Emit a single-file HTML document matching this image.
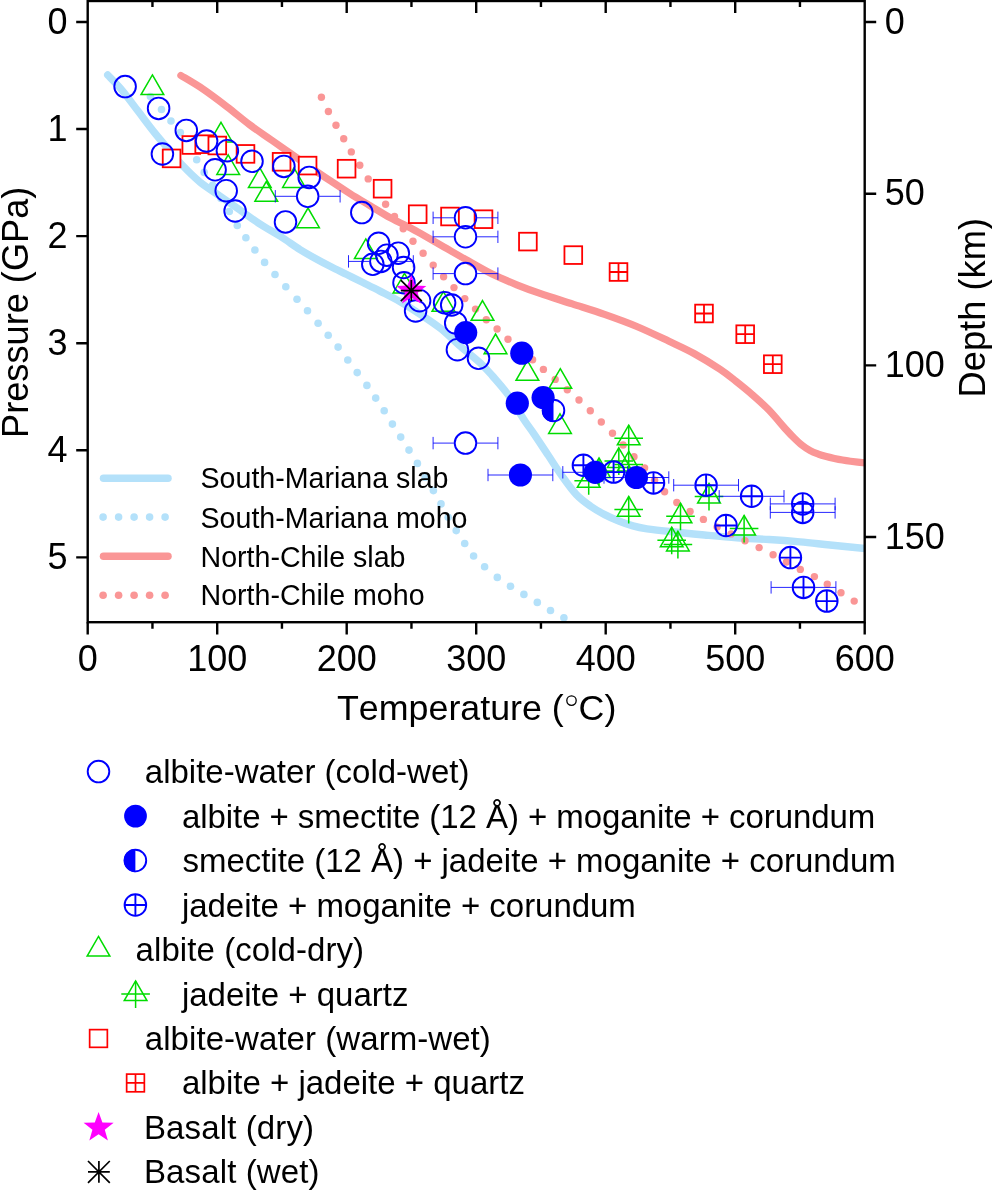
<!DOCTYPE html><html><head><meta charset="utf-8"><style>html,body{margin:0;padding:0;background:#fff;overflow:hidden}svg{display:block}text{font-family:"Liberation Sans",sans-serif;fill:#000;font-kerning:none}</style></head><body>
<div style="will-change:transform;width:992px;height:1191px"><svg width="992" height="1191" viewBox="0 0 992 1191">
<rect width="992" height="1191" fill="#fff"/>
<defs><clipPath id="pc"><rect x="87.7" y="1.0" width="777.0" height="621.2"/></clipPath></defs>
<g clip-path="url(#pc)" fill="none" stroke-linecap="round" stroke-linejoin="round">
<path d="M107.7,75 C110.13,77.6 117.18,84.5 122.3,90.6 C127.42,96.7 133.03,104.6 138.4,111.6 C143.77,118.6 149.67,126.55 154.5,132.6 C159.33,138.65 162.83,142.53 167.4,147.9 C171.97,153.27 176.47,159.1 181.9,164.8 C187.33,170.5 193.62,176.87 200,182.1 C206.38,187.33 213.48,191.5 220.2,196.2 C226.92,200.9 233.58,205.6 240.3,210.3 C247.02,215 253.78,220.03 260.5,224.4 C267.22,228.77 274.02,232.3 280.6,236.5 C287.18,240.7 294.35,246.03 300,249.6 C305.65,253.17 309.4,255.08 314.5,257.9 C319.6,260.72 325.22,263.73 330.6,266.5 C335.98,269.27 341.42,271.83 346.8,274.5 C352.18,277.17 357.37,279.73 362.9,282.5 C368.43,285.27 373.78,287.9 380,291.1 C386.22,294.3 393.48,297.83 400.2,301.7 C406.92,305.57 413.58,309.85 420.3,314.3 C427.02,318.75 433.78,323.03 440.5,328.4 C447.22,333.77 454.02,340.78 460.6,346.5 C467.18,352.22 474.72,357.82 480,362.7 C485.28,367.58 487.57,370.38 492.3,375.8 C497.03,381.22 503.08,387.83 508.4,395.2 C513.72,402.57 519.92,413.52 524.2,420 C528.48,426.48 530.1,428.22 534.1,434.1 C538.1,439.98 543.5,448.25 548.2,455.3 C552.9,462.35 557.6,469.85 562.3,476.4 C567,482.95 571.68,489.63 576.4,494.6 C581.12,499.57 585.88,502.87 590.6,506.2 C595.32,509.53 600,512.13 604.7,514.6 C609.4,517.07 614.1,519.12 618.8,521 C623.5,522.88 628.2,524.6 632.9,525.9 C637.6,527.2 640.43,527.82 647,528.8 C653.57,529.78 662.72,530.77 672.3,531.8 C681.88,532.83 693.75,534 704.5,535 C715.25,536 726.05,537.05 736.8,537.8 C747.55,538.55 758.47,538.82 769,539.5 C779.53,540.18 789.83,540.98 800,541.9 C810.17,542.82 819,543.88 830,545 C841,546.12 860,548 866,548.6" stroke="#B4E1FA" stroke-width="7.4"/>
<g fill="#B4E1FA"><circle cx="150.4" cy="96.6" r="3.8"/><circle cx="161.5" cy="109.5" r="3.8"/><circle cx="171" cy="121" r="3.8"/><circle cx="180.3" cy="132.6" r="3.8"/><circle cx="188.5" cy="146.2" r="3.8"/><circle cx="196.7" cy="159.8" r="3.8"/><circle cx="204.2" cy="172.4" r="3.8"/><circle cx="212.6" cy="185.4" r="3.8"/><circle cx="221" cy="198.5" r="3.8"/><circle cx="229.3" cy="211.5" r="3.8"/><circle cx="237.3" cy="225.5" r="3.8"/><circle cx="245.9" cy="237.7" r="3.8"/><circle cx="254.9" cy="250" r="3.8"/><circle cx="264.6" cy="262.4" r="3.8"/><circle cx="275" cy="274.5" r="3.8"/><circle cx="285.8" cy="286.8" r="3.8"/><circle cx="297" cy="299.2" r="3.8"/><circle cx="307.5" cy="310.8" r="3.8"/><circle cx="318.1" cy="323.2" r="3.8"/><circle cx="328.2" cy="335.3" r="3.8"/><circle cx="338.1" cy="347.1" r="3.8"/><circle cx="347.8" cy="360" r="3.8"/><circle cx="357.2" cy="372.6" r="3.8"/><circle cx="366.9" cy="385.4" r="3.8"/><circle cx="375.7" cy="398.1" r="3.8"/><circle cx="384.2" cy="410.8" r="3.8"/><circle cx="392.4" cy="424.1" r="3.8"/><circle cx="400.7" cy="437.1" r="3.8"/><circle cx="409" cy="450.1" r="3.8"/><circle cx="417.4" cy="463.4" r="3.8"/><circle cx="425.3" cy="477.3" r="3.8"/><circle cx="433.4" cy="490.6" r="3.8"/><circle cx="441" cy="503.9" r="3.8"/><circle cx="448.2" cy="517.2" r="3.8"/><circle cx="456.2" cy="530.6" r="3.8"/><circle cx="464.7" cy="543.5" r="3.8"/><circle cx="473.6" cy="556" r="3.8"/><circle cx="484.6" cy="566.8" r="3.8"/><circle cx="497.3" cy="577.4" r="3.8"/><circle cx="510.5" cy="586.3" r="3.8"/><circle cx="523.9" cy="594.4" r="3.8"/><circle cx="537.3" cy="602.4" r="3.8"/><circle cx="550.5" cy="610.5" r="3.8"/><circle cx="563.9" cy="617.7" r="3.8"/></g>
<path d="M180.9,75.5 C184.57,77.75 195.2,83.78 202.9,89 C210.6,94.22 219.25,100.8 227.1,106.8 C234.95,112.8 242.47,119.37 250,125 C257.53,130.63 263.22,134.23 272.3,140.6 C281.38,146.97 294.88,156.53 304.5,163.2 C314.12,169.87 322.38,175.52 330,180.6 C337.62,185.68 343.48,189.5 350.2,193.7 C356.92,197.9 363.58,201.77 370.3,205.8 C377.02,209.83 383.78,214.2 390.5,217.9 C397.22,221.6 405.68,225.47 410.6,228 C415.52,230.53 414.4,229.92 420,233.1 C425.6,236.28 436.13,242.45 444.2,247.1 C452.27,251.75 460.33,256.47 468.4,261 C476.47,265.53 484.53,270.33 492.6,274.3 C500.67,278.27 508.9,281.62 516.8,284.8 C524.7,287.98 530.75,290.22 540,293.4 C549.25,296.58 561.55,300.4 572.3,303.9 C583.05,307.4 593.75,310.63 604.5,314.4 C615.25,318.17 626.05,322.02 636.8,326.5 C647.55,330.98 659.47,336.8 669,341.3 C678.53,345.8 685.5,348.83 694,353.5 C702.5,358.17 712.98,364.65 720,369.3 C727.02,373.95 730.72,377.17 736.1,381.4 C741.48,385.63 746.92,390 752.3,394.7 C757.68,399.4 762.78,403.8 768.4,409.6 C774.02,415.4 781.72,424.77 786,429.5 C790.28,434.23 791.42,435.37 794.1,438 C796.78,440.63 799.42,443.18 802.1,445.3 C804.78,447.42 807.5,449.23 810.2,450.7 C812.9,452.17 815.62,453.13 818.3,454.1 C820.98,455.07 823.62,455.78 826.3,456.5 C828.98,457.22 831.7,457.82 834.4,458.4 C837.1,458.98 839.82,459.53 842.5,460 C845.18,460.47 846.58,460.7 850.5,461.2 C854.42,461.7 863.42,462.7 866,463" stroke="#FA9696" stroke-width="7.2"/>
<g fill="#FA9696"><circle cx="321.4" cy="97.2" r="3.7"/><circle cx="328.4" cy="111.5" r="3.7"/><circle cx="336" cy="125.2" r="3.7"/><circle cx="343.7" cy="138.7" r="3.7"/><circle cx="351.3" cy="151.9" r="3.7"/><circle cx="359.8" cy="165.3" r="3.7"/><circle cx="368.2" cy="178.9" r="3.7"/><circle cx="377" cy="191.5" r="3.7"/><circle cx="385.6" cy="204.3" r="3.7"/><circle cx="394.5" cy="216.5" r="3.7"/><circle cx="403.2" cy="228.8" r="3.7"/><circle cx="413" cy="241.2" r="3.7"/><circle cx="423.1" cy="253.3" r="3.7"/><circle cx="433.2" cy="265.1" r="3.7"/><circle cx="443.6" cy="276.7" r="3.7"/><circle cx="454" cy="287.6" r="3.7"/><circle cx="464.8" cy="298.6" r="3.7"/><circle cx="475.5" cy="309.1" r="3.7"/><circle cx="486.3" cy="319.8" r="3.7"/><circle cx="497.1" cy="329" r="3.7"/><circle cx="508" cy="339.2" r="3.7"/><circle cx="520.3" cy="349.5" r="3.7"/><circle cx="532.6" cy="359.7" r="3.7"/><circle cx="543.4" cy="369.4" r="3.7"/><circle cx="555.2" cy="379.4" r="3.7"/><circle cx="567.3" cy="389.8" r="3.7"/><circle cx="579" cy="400" r="3.7"/><circle cx="590.3" cy="410.8" r="3.7"/><circle cx="601.3" cy="422" r="3.7"/><circle cx="612.5" cy="433.2" r="3.7"/><circle cx="623.1" cy="445" r="3.7"/><circle cx="634" cy="456.8" r="3.7"/><circle cx="644.6" cy="467.9" r="3.7"/><circle cx="654.6" cy="480.3" r="3.7"/><circle cx="664.6" cy="491.8" r="3.7"/><circle cx="676.8" cy="502.5" r="3.7"/><circle cx="690.1" cy="511.4" r="3.7"/><circle cx="703.4" cy="519.4" r="3.7"/><circle cx="717.1" cy="527.1" r="3.7"/><circle cx="731.1" cy="533.9" r="3.7"/><circle cx="745" cy="540.7" r="3.7"/><circle cx="759.1" cy="547.6" r="3.7"/><circle cx="773.1" cy="554.7" r="3.7"/><circle cx="786.5" cy="562" r="3.7"/><circle cx="800.3" cy="569.4" r="3.7"/><circle cx="814.4" cy="576.6" r="3.7"/><circle cx="827.3" cy="584.2" r="3.7"/><circle cx="841" cy="592.7" r="3.7"/><circle cx="854.2" cy="601.1" r="3.7"/><circle cx="867.6" cy="611" r="3.7"/></g>
</g>
<g stroke-linecap="round">
<path d="M103.5,478.2H168" stroke="#B4E1FA" stroke-width="7.5"/>
<path d="M103.5,556.3H168" stroke="#FA9696" stroke-width="7.5"/>
</g>
<circle cx="103.1" cy="517.1" r="3.8" fill="#B4E1FA"/>
<circle cx="103.1" cy="595.2" r="3.8" fill="#FA9696"/>
<circle cx="118.6" cy="517.1" r="3.8" fill="#B4E1FA"/>
<circle cx="118.6" cy="595.2" r="3.8" fill="#FA9696"/>
<circle cx="134.1" cy="517.1" r="3.8" fill="#B4E1FA"/>
<circle cx="134.1" cy="595.2" r="3.8" fill="#FA9696"/>
<circle cx="149.6" cy="517.1" r="3.8" fill="#B4E1FA"/>
<circle cx="149.6" cy="595.2" r="3.8" fill="#FA9696"/>
<circle cx="165.1" cy="517.1" r="3.8" fill="#B4E1FA"/>
<circle cx="165.1" cy="595.2" r="3.8" fill="#FA9696"/>
<g font-size="28.6">
<text x="200.5" y="488.3">South-Mariana slab</text>
<text x="200.5" y="527.5">South-Mariana moho</text>
<text x="200.5" y="566.5">North-Chile slab</text>
<text x="200.5" y="605.4">North-Chile moho</text>
</g>
<g fill="none" stroke="#00DC00" stroke-width="1.5" stroke-linejoin="miter">
<path d="M152.4,74.9L163.75,94.55L141.05,94.55Z"/>
<path d="M221,122.3L232.35,141.95L209.65,141.95Z"/>
<path d="M228.2,154.8L239.55,174.45L216.85,174.45Z"/>
<path d="M259.8,167.9L271.15,187.55L248.45,187.55Z"/>
<path d="M266.3,181.5L277.65,201.15L254.95,201.15Z"/>
<path d="M294,167.8L305.35,187.45L282.65,187.45Z"/>
<path d="M308,208L319.35,227.65L296.65,227.65Z"/>
<path d="M365.8,238.9L377.15,258.55L354.45,258.55Z"/>
<path d="M404.5,273.3L415.85,292.95L393.15,292.95Z"/>
<path d="M443.4,291.6L454.75,311.25L432.05,311.25Z"/>
<path d="M482.5,300.6L493.85,320.25L471.15,320.25Z"/>
<path d="M495.5,334L506.85,353.65L484.15,353.65Z"/>
<path d="M527.4,360.6L538.75,380.25L516.05,380.25Z"/>
<path d="M560.3,368.7L571.65,388.35L548.95,388.35Z"/>
<path d="M560,413.8L571.35,433.45L548.65,433.45Z"/>
<path d="M628.7,425.2L640.05,444.85L617.35,444.85Z"/><path d="M614.4,438.3h28.6M628.7,425.2v27.1"/>
<path d="M618.8,447.8L630.15,467.45L607.45,467.45Z"/><path d="M604.5,460.9h28.6M618.8,447.8v27.1"/>
<path d="M628.7,451.4L640.05,471.05L617.35,471.05Z"/><path d="M614.4,464.5h28.6M628.7,451.4v27.1"/>
<path d="M599,457.9L610.35,477.55L587.65,477.55Z"/><path d="M584.7,471h28.6M599,457.9v27.1"/>
<path d="M588.7,467.6L600.05,487.25L577.35,487.25Z"/><path d="M574.4,480.7h28.6M588.7,467.6v27.1"/>
<path d="M628.7,496.5L640.05,516.15L617.35,516.15Z"/><path d="M614.4,509.6h28.6M628.7,496.5v27.1"/>
<path d="M680.5,503.2L691.85,522.85L669.15,522.85Z"/><path d="M666.2,516.3h28.6M680.5,503.2v27.1"/>
<path d="M671.7,527.2L683.05,546.85L660.35,546.85Z"/><path d="M657.4,540.3h28.6M671.7,527.2v27.1"/>
<path d="M677.9,531.3L689.25,550.95L666.55,550.95Z"/><path d="M663.6,544.4h28.6M677.9,531.3v27.1"/>
<path d="M709,483.4L720.35,503.05L697.65,503.05Z"/><path d="M694.7,496.5h28.6M709,483.4v27.1"/>
<path d="M744.1,515.4L755.45,535.05L732.75,535.05Z"/><path d="M729.8,528.5h28.6M744.1,515.4v27.1"/>
</g>
<g fill="#fff" stroke="#FF0000" stroke-width="1.8">
<rect x="162.75" y="149.55" width="17.7" height="17.7"/>
<rect x="182.45" y="136.15" width="17.7" height="17.7"/>
<rect x="195.35" y="135.35" width="17.7" height="17.7"/>
<rect x="208.45" y="136.65" width="17.7" height="17.7"/>
<rect x="236.65" y="145.05" width="17.7" height="17.7"/>
<rect x="272.75" y="152.95" width="17.7" height="17.7"/>
<rect x="298.75" y="156.75" width="17.7" height="17.7"/>
<rect x="337.75" y="159.85" width="17.7" height="17.7"/>
<rect x="373.75" y="179.85" width="17.7" height="17.7"/>
<rect x="408.85" y="205.35" width="17.7" height="17.7"/>
<rect x="441.15" y="207.65" width="17.7" height="17.7"/>
<rect x="474.65" y="210.35" width="17.7" height="17.7"/>
<rect x="519.05" y="232.75" width="17.7" height="17.7"/>
<rect x="564.45" y="246.25" width="17.7" height="17.7"/>
<rect x="609.65" y="263.15" width="17.7" height="17.7"/><path d="M609.65,272h17.7M618.5,263.15v17.7"/>
<rect x="695.15" y="304.65" width="17.7" height="17.7"/><path d="M695.15,313.5h17.7M704,304.65v17.7"/>
<rect x="736.35" y="325.35" width="17.7" height="17.7"/><path d="M736.35,334.2h17.7M745.2,325.35v17.7"/>
<rect x="763.95" y="355.35" width="17.7" height="17.7"/><path d="M763.95,364.2h17.7M772.8,355.35v17.7"/>
</g>
<g fill="none" stroke="#0000FF" stroke-width="1.0" stroke-opacity="0.85">
<path d="M275.3,196.3H296.1M319.3,196.3H340.1M275.3,190.1v12.4M340.1,190.1v12.4"/>
<path d="M433.1,217.8H453.9M477.1,217.8H497.9M433.1,211.6v12.4M497.9,211.6v12.4"/>
<path d="M433.1,236.8H453.9M477.1,236.8H497.9M433.1,230.6v12.4M497.9,230.6v12.4"/>
<path d="M433.1,273.6H453.9M477.1,273.6H497.9M433.1,267.4v12.4M497.9,267.4v12.4"/>
<path d="M348.5,261.4H369.3M392.5,261.4H413.3M348.5,255.2v12.4M413.3,255.2v12.4"/>
<path d="M433.1,443.1H453.9M477.1,443.1H497.9M433.1,436.9v12.4M497.9,436.9v12.4"/>
<path d="M562.8,472.3H583.6M606.8,472.3H627.6M562.8,466.1v12.4M627.6,466.1v12.4"/>
<path d="M604,477.5H624.8M648,477.5H668.8M604,471.3v12.4M668.8,471.3v12.4"/>
<path d="M488,475H508.8M532,475H552.8M488,468.8v12.4M552.8,468.8v12.4"/>
<path d="M673.7,485.2H694.5M717.7,485.2H738.5M673.7,479v12.4M738.5,479v12.4"/>
<path d="M719.2,496.3H740M763.2,496.3H784M719.2,490.1v12.4M784,490.1v12.4"/>
<path d="M770.3,503.9H791.1M814.3,503.9H835.1M770.3,497.7v12.4M835.1,497.7v12.4"/>
<path d="M770.3,512.4H791.1M814.3,512.4H835.1M770.3,506.2v12.4M835.1,506.2v12.4"/>
<path d="M771.1,587.4H791.9M815.1,587.4H835.9M771.1,581.2v12.4M835.9,581.2v12.4"/>
</g>
<g fill="none" stroke="#0000FF" stroke-width="1.9">
<circle cx="125.1" cy="86.6" r="10.8"/>
<circle cx="158.6" cy="108.4" r="10.8"/>
<circle cx="186.3" cy="130.4" r="10.8"/>
<circle cx="206.6" cy="141" r="10.8"/>
<circle cx="227.4" cy="150.7" r="10.8"/>
<circle cx="162.4" cy="154" r="10.8"/>
<circle cx="252" cy="161.3" r="10.8"/>
<circle cx="215.1" cy="169.8" r="10.8"/>
<circle cx="283.9" cy="166.4" r="10.8"/>
<circle cx="309.2" cy="177.4" r="10.8"/>
<circle cx="226.2" cy="190.7" r="10.8"/>
<circle cx="307.7" cy="196.3" r="10.8"/>
<circle cx="235.1" cy="211" r="10.8"/>
<circle cx="285.5" cy="221.9" r="10.8"/>
<circle cx="361.8" cy="212.6" r="10.8"/>
<circle cx="465.5" cy="217.8" r="10.8"/>
<circle cx="465.5" cy="236.8" r="10.8"/>
<circle cx="465.5" cy="273.6" r="10.8"/>
<circle cx="378.6" cy="243.3" r="10.8"/>
<circle cx="386.9" cy="255.2" r="10.8"/>
<circle cx="398.3" cy="253.2" r="10.8"/>
<circle cx="380.9" cy="261.4" r="10.8"/>
<circle cx="372.8" cy="264.3" r="10.8"/>
<circle cx="403.6" cy="267.5" r="10.8"/>
<circle cx="404" cy="282.8" r="10.8"/>
<circle cx="419.6" cy="300.7" r="10.8"/>
<circle cx="415.6" cy="311" r="10.8"/>
<circle cx="444.6" cy="302.7" r="10.8"/>
<circle cx="451.7" cy="305" r="10.8"/>
<circle cx="455.7" cy="323" r="10.8"/>
<circle cx="457.4" cy="349.7" r="10.8"/>
<circle cx="478.5" cy="358.3" r="10.8"/>
<circle cx="465.5" cy="443.1" r="10.8"/>
<circle cx="583.4" cy="465.3" r="10.8"/><path d="M572.6,465.3h21.6M583.4,454.5v21.6"/>
<circle cx="613.6" cy="472.1" r="10.8"/><path d="M602.8,472.1h21.6M613.6,461.3v21.6"/>
<circle cx="653.5" cy="482.9" r="10.8"/><path d="M642.7,482.9h21.6M653.5,472.1v21.6"/>
<circle cx="706.1" cy="485.2" r="10.8"/><path d="M695.3,485.2h21.6M706.1,474.4v21.6"/>
<circle cx="751.6" cy="496.3" r="10.8"/><path d="M740.8,496.3h21.6M751.6,485.5v21.6"/>
<circle cx="726" cy="525.5" r="10.8"/><path d="M715.2,525.5h21.6M726,514.7v21.6"/>
<circle cx="802.7" cy="503.9" r="10.8"/><path d="M791.9,503.9h21.6M802.7,493.1v21.6"/>
<circle cx="802.7" cy="512.4" r="10.8"/><path d="M791.9,512.4h21.6M802.7,501.6v21.6"/>
<circle cx="790.4" cy="557.6" r="10.8"/><path d="M779.6,557.6h21.6M790.4,546.8v21.6"/>
<circle cx="803.5" cy="587.4" r="10.8"/><path d="M792.7,587.4h21.6M803.5,576.6v21.6"/>
<circle cx="826.8" cy="601.1" r="10.8"/><path d="M816,601.1h21.6M826.8,590.3v21.6"/>
<path d="M553.5,398.9 A11.6,11.6 0 0 0 553.5,422.1 Z" fill="#0000FF" stroke="none"/><circle cx="553.5" cy="410.5" r="10.8" fill="none"/>
</g>
<g fill="#0000FF">
<circle cx="465.7" cy="332.6" r="11.6"/>
<circle cx="521.8" cy="353.2" r="11.6"/>
<circle cx="517.3" cy="403.2" r="11.6"/>
<circle cx="543.1" cy="397.6" r="11.6"/>
<circle cx="595.2" cy="472.3" r="11.6"/>
<circle cx="636.4" cy="477.5" r="11.6"/>
<circle cx="520.4" cy="475" r="11.6"/>
</g>
<g fill="#FF00FF"><path d="M411.3,275L415.24,285.38L426.33,285.92L417.67,292.87L420.59,303.58L411.3,297.5L402.01,303.58L404.93,292.87L396.27,285.92L407.36,285.38Z"/></g>
<g stroke="#000" stroke-width="1.7" fill="none"><path d="M411.3,280.1v21M400.8,290.6h21M400.8,280.1l21,21M400.8,301.1l21,-21"/></g>
<g stroke="#000" stroke-width="2.4" fill="none" stroke-linecap="butt">
<rect x="87.7" y="1.0" width="777.0" height="621.2"/>
<path d="M87.7,622.2v12.3M217.2,622.2v12.3M217.2,1v12M346.7,622.2v12.3M346.7,1v12M476.2,622.2v12.3M476.2,1v12M605.7,622.2v12.3M605.7,1v12M735.2,622.2v12.3M735.2,1v12M864.7,622.2v12.3M152.45,622.2v6.5M152.45,1v6M281.95,622.2v6.5M281.95,1v6M411.45,622.2v6.5M411.45,1v6M540.95,622.2v6.5M540.95,1v6M670.45,622.2v6.5M670.45,1v6M799.95,622.2v6.5M799.95,1v6M87.7,22h-11.5M87.7,129.07h-11.5M87.7,236.14h-11.5M87.7,343.21h-11.5M87.7,450.28h-11.5M87.7,557.35h-11.5M864.7,22h11.5M864.7,193.68h11.5M864.7,365.35h11.5M864.7,537.02h11.5"/>
</g>
<g font-size="36">
<text x="67.6" y="33.5" text-anchor="end">0</text>
<text x="67.6" y="140.57" text-anchor="end">1</text>
<text x="67.6" y="247.64" text-anchor="end">2</text>
<text x="67.6" y="354.71" text-anchor="end">3</text>
<text x="67.6" y="461.78" text-anchor="end">4</text>
<text x="67.6" y="568.85" text-anchor="end">5</text>
<text x="87.7" y="671" text-anchor="middle">0</text>
<text x="217.2" y="671" text-anchor="middle">100</text>
<text x="346.7" y="671" text-anchor="middle">200</text>
<text x="476.2" y="671" text-anchor="middle">300</text>
<text x="605.7" y="671" text-anchor="middle">400</text>
<text x="735.2" y="671" text-anchor="middle">500</text>
<text x="864.7" y="671" text-anchor="middle">600</text>
<text x="884.7" y="33.8">0</text>
<text x="884.7" y="205.48">50</text>
<text x="884.7" y="377.15">100</text>
<text x="884.7" y="548.82">150</text>
</g>
<text font-size="36.2" transform="translate(27.5,438) rotate(-90)">Pressure (GPa)</text>
<text font-size="36.3" transform="translate(985,397.5) rotate(-90)">Depth (km)</text>
<text font-size="35.8" x="337" y="719.7">Temperature (</text>
<circle cx="571.5" cy="700.6" r="4.7" fill="none" stroke="#000" stroke-width="1.3"/>
<text font-size="35.8" x="578.6" y="719.7">C)</text>
<g font-size="33.0">
<text x="144.8" y="783.1">albite-water (cold-wet)</text>
<text x="181.9" y="827.58" textLength="693.42" lengthAdjust="spacing">albite + smectite (12 Å) + moganite + corundum</text>
<text x="182.5" y="872.06" textLength="713.27" lengthAdjust="spacing">smectite (12 Å) + jadeite + moganite + corundum</text>
<text x="181.9" y="916.54" textLength="453.97" lengthAdjust="spacing">jadeite + moganite + corundum</text>
<text x="135.6" y="961.02" textLength="228.52" lengthAdjust="spacing">albite (cold-dry)</text>
<text x="181.9" y="1005.5">jadeite + quartz</text>
<text x="144.8" y="1049.98" textLength="346.03" lengthAdjust="spacing">albite-water (warm-wet)</text>
<text x="181.9" y="1094.46">albite + jadeite + quartz</text>
<text x="143.9" y="1138.94" textLength="170.22" lengthAdjust="spacing">Basalt (dry)</text>
<text x="143.9" y="1183.42" textLength="175.72" lengthAdjust="spacing">Basalt (wet)</text>
</g>
<g fill="none" stroke="#0000FF" stroke-width="1.9">
<circle cx="98.5" cy="771.6" r="10.8"/>
<circle cx="135.4" cy="905.04" r="10.8"/><path d="M124.6,905.04h21.6M135.4,894.24v21.6"/>
<path d="M135.4,848.96 A11.6,11.6 0 0 0 135.4,872.16 Z" fill="#0000FF" stroke="none"/><circle cx="135.4" cy="860.56" r="10.8" fill="none"/>
</g>
<circle cx="135.5" cy="816.08" r="11.4" fill="#0000FF"/>
<g fill="none" stroke="#00DC00" stroke-width="1.5">
<path d="M98.5,936.42L109.85,956.07L87.15,956.07Z"/>
<path d="M135.6,980.9L146.95,1000.55L124.25,1000.55Z"/><path d="M121.3,994h28.6M135.6,980.9v27.1"/>
</g>
<g fill="none" stroke="#FF0000" stroke-width="1.7">
<rect x="89.65" y="1029.63" width="17.7" height="17.7"/>
<rect x="126.65" y="1074.11" width="17.7" height="17.7"/><path d="M126.65,1082.96h17.7M135.5,1074.11v17.7"/>
</g>
<g fill="#FF00FF"><path d="M98.6,1111.9L102.42,1122.44L113.63,1122.82L104.78,1129.71L107.89,1140.48L98.6,1134.2L89.31,1140.48L92.42,1129.71L83.57,1122.82L94.78,1122.44Z"/></g>
<g stroke="#000" stroke-width="1.7" fill="none"><path d="M98.9,1161v21.8M88,1171.9h21.8M88,1161l21.8,21.8M88,1182.8l21.8,-21.8"/></g>
</svg></div></body></html>
